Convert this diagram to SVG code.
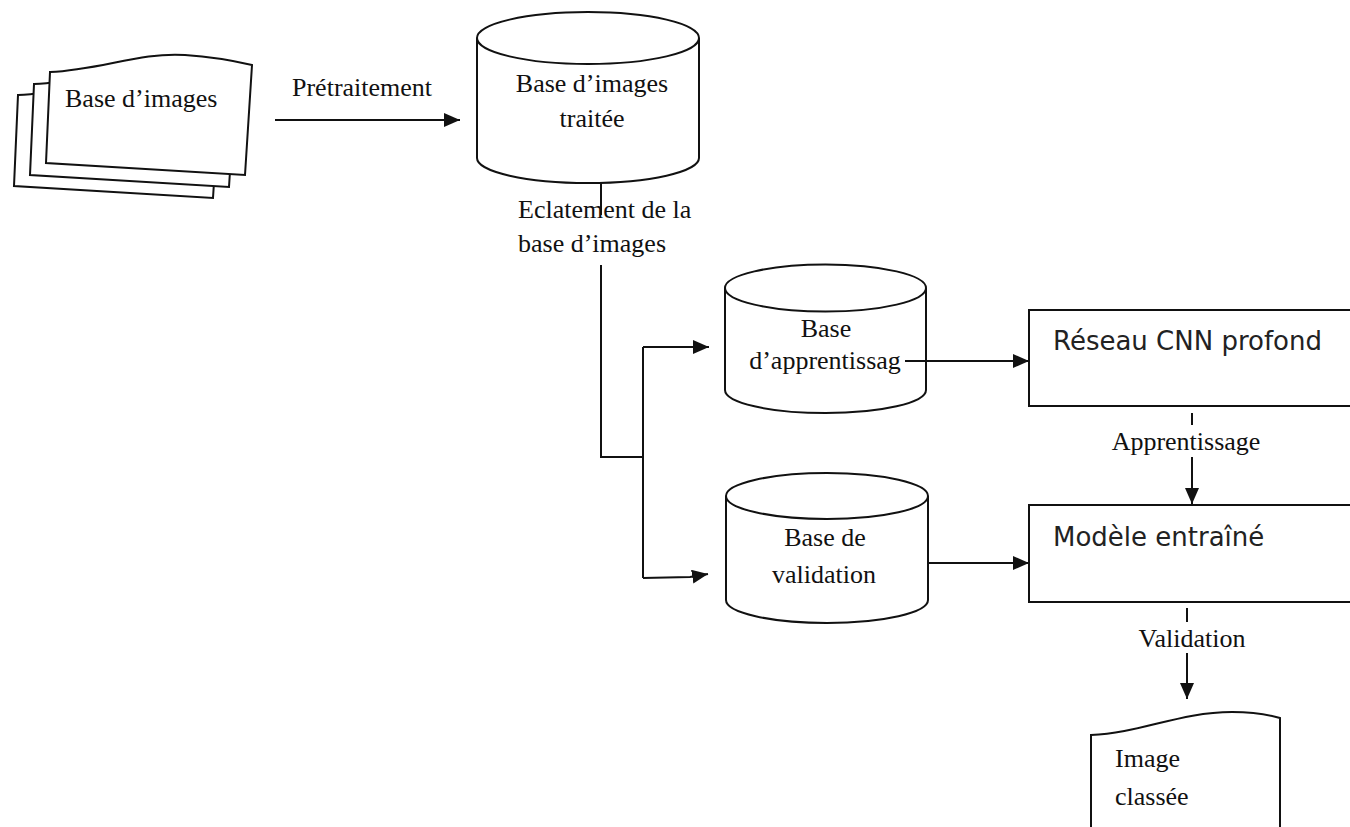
<svg xmlns="http://www.w3.org/2000/svg" width="1350" height="827" viewBox="0 0 1350 827">
  <style>
    .shape { fill: #ffffff; stroke: #111111; stroke-width: 2; }
    .wire { fill: none; stroke: #111111; stroke-width: 2; }
    .serif { font-family: "Liberation Serif", "Times New Roman", serif; font-size: 26px; fill: #111111; }
    .sans { font-family: "DejaVu Sans", Verdana, sans-serif; font-size: 26px; fill: #222222; }
    .mid { text-anchor: middle; }
  </style>
  <defs>
    <marker id="head" markerUnits="userSpaceOnUse" markerWidth="18" markerHeight="14" refX="16" refY="7" orient="auto">
      <path d="M0,0 L16,7 L0,14 Z" fill="#111111"/>
    </marker>
    <path id="sheet" d="M50,72 C100,70 140,52 185,55 C215,57 235,61 252,65 L245,175 L46,163 Z"/>
  </defs>

  <rect width="1350" height="827" fill="#ffffff"/>

  <!-- stacked image sheets -->
  <g id="base-images">
    <use href="#sheet" class="shape" transform="translate(-32,23)"/>
    <use href="#sheet" class="shape" transform="translate(-16,12)"/>
    <use href="#sheet" class="shape"/>
    <text class="serif" x="65" y="107">Base d’images</text>
  </g>

  <!-- processed image store -->
  <g id="base-traitee">
    <path class="shape" d="M477,38 V158 A111,25 0 0 0 699,158 V38"/>
    <ellipse class="shape" cx="588" cy="38" rx="111" ry="26"/>
    <text class="serif mid" x="592" y="92">Base d’images</text>
    <text class="serif mid" x="592" y="127">traitée</text>
  </g>

  <!-- training store -->
  <g id="base-apprentissage">
    <path class="shape" d="M725,288 V390 A100,23 0 0 0 926,390 V288"/>
    <ellipse class="shape" cx="825.5" cy="288" rx="100.5" ry="23.5"/>
    <text class="serif mid" x="826" y="337">Base</text>
    <text class="serif mid" x="825" y="369">d’apprentissag</text>
  </g>

  <!-- validation store -->
  <g id="base-validation">
    <path class="shape" d="M726,496 V600 A101,23 0 0 0 928,600 V496"/>
    <ellipse class="shape" cx="827" cy="496" rx="101" ry="23"/>
    <text class="serif mid" x="825" y="546">Base de</text>
    <text class="serif mid" x="824" y="583">validation</text>
  </g>

  <!-- network -->
  <g id="reseau-cnn">
    <rect class="shape" x="1029" y="310" width="340" height="96"/>
    <text class="sans" x="1053" y="350">Réseau CNN profond</text>
  </g>

  <!-- trained model -->
  <g id="modele">
    <rect class="shape" x="1029" y="505" width="340" height="97"/>
    <text class="sans" x="1053" y="546">Modèle entraîné</text>
  </g>

  <!-- classified output -->
  <g id="image-classee">
    <path class="shape" d="M1091,735 C1140,733 1180,712 1232,712 C1255,712 1270,715 1280,718 V850 H1091 Z"/>
    <text class="serif" x="1115" y="767">Image</text>
    <text class="serif" x="1115" y="805">classée</text>
  </g>

  <!-- connectors, drawn over the nodes -->
  <g id="connectors">
    <path class="wire" d="M275,120 H460" marker-end="url(#head)"/>
    <text class="serif" x="292" y="96">Prétraitement</text>

    <path class="wire" d="M601,183 V215"/>
    <path class="wire" d="M601,265 V457 H643"/>
    <path class="wire" d="M643,347 V578"/>
    <path class="wire" d="M643,347 H709" marker-end="url(#head)"/>
    <path class="wire" d="M643,578 L690,577 L708,574" marker-end="url(#head)"/>
    <text class="serif" x="518" y="218">Eclatement de la</text>
    <text class="serif" x="518" y="252">base d’images</text>

    <path class="wire" d="M905,361 H1029" marker-end="url(#head)"/>
    <path class="wire" d="M928,563 H1029" marker-end="url(#head)"/>

    <path class="wire" d="M1192,413 V425"/>
    <path class="wire" d="M1192,457 V504" marker-end="url(#head)"/>
    <text class="serif mid" x="1186" y="450">Apprentissage</text>

    <path class="wire" d="M1187,608 V622"/>
    <path class="wire" d="M1187,653 V699" marker-end="url(#head)"/>
    <text class="serif mid" x="1192" y="647">Validation</text>
  </g>
</svg>
